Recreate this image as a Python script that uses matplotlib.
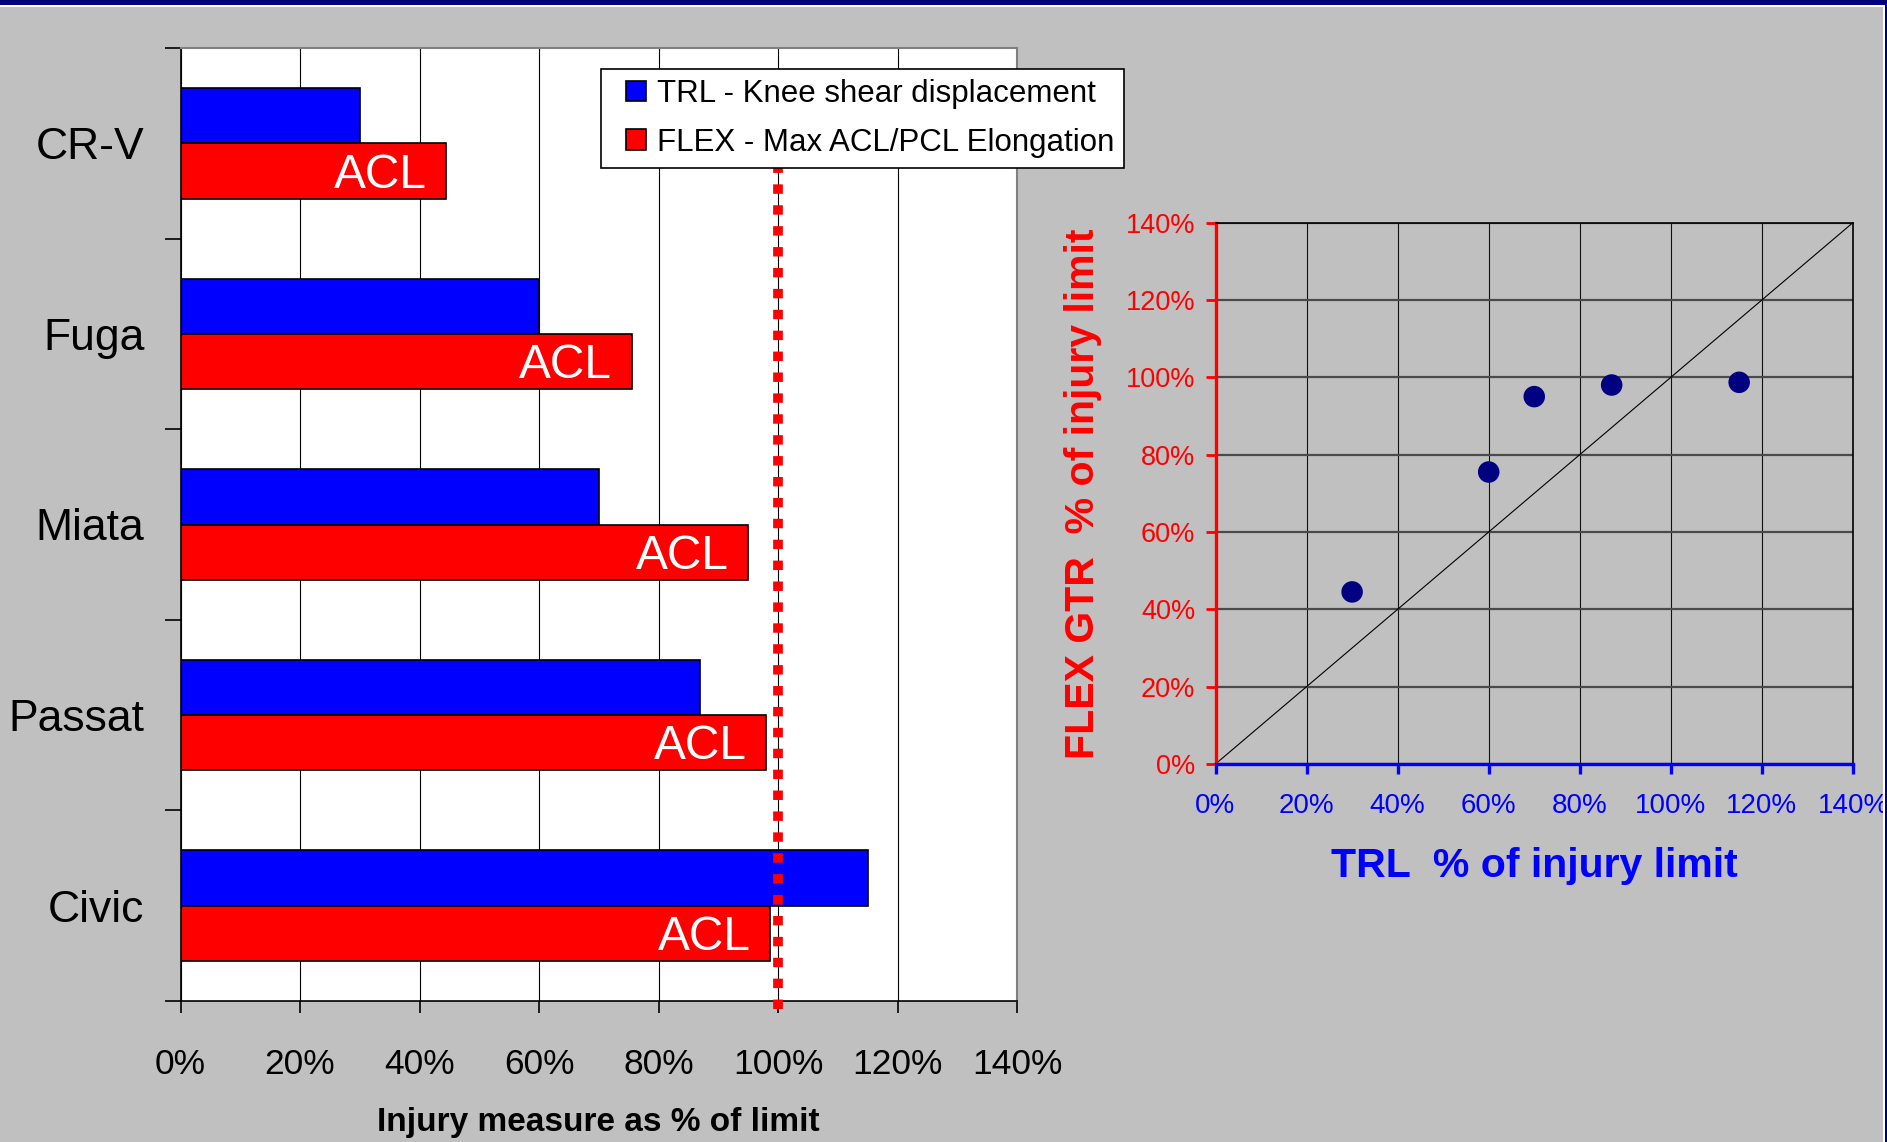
import matplotlib
matplotlib.use("Agg")
import matplotlib.pyplot as plt
from matplotlib.patches import Rectangle, Patch
from matplotlib.legend_handler import HandlerPatch
import numpy as np

plt.rcParams['font.family'] = ['Liberation Sans', 'DejaVu Sans']

# ---- data -------------------------------------------------------------
vehicles = ['CR-V', 'Fuga', 'Miata', 'Passat', 'Civic']
trl_pct = [30, 60, 70, 87, 115]          # TRL - knee shear displacement, % of limit
flex_pct = [44.5, 75.5, 95, 98, 98.7]    # FLEX - max ACL/PCL elongation, % of limit
flex_labels = ['ACL', 'ACL', 'ACL', 'ACL', 'ACL']
pct_ticks = [0, 20, 40, 60, 80, 100, 120, 140]
injury_limit = 100
series_names = ['TRL - Knee shear displacement', 'FLEX - Max ACL/PCL Elongation']

# ---- figure -----------------------------------------------------------
W, H = 1887, 1142
fig = plt.figure(figsize=(W / 100, H / 100), dpi=100)
fig.patch.set_facecolor('#C0C0C0')


def fx(px):
    return px / W


def fy(py):
    return 1 - py / H


# slide frame: navy strip along the top and right edge with a white rule
for x0, y0, w, h, c in [
    (0, 0, W, 5, '#00007A'),
    (0, 5, W, 2, 'white'),
    (1883, 5, 2, H, 'white'),
    (1885, 0, 2, H, '#00007A'),
]:
    fig.patches.append(Rectangle((fx(x0), fy(y0 + h)), w / W, h / H,
                                 transform=fig.transFigure, facecolor=c,
                                 edgecolor='none', zorder=0))

tick_fmt = [f'{t}%' for t in pct_ticks]

# ---- left: horizontal bar chart ---------------------------------------
ax1 = fig.add_axes([fx(180.5), fy(1001), (1017 - 180.5) / W, 953 / H])
ax1.set_facecolor('white')
ypos = np.arange(len(vehicles))
bh = 0.29
blue_bars = ax1.barh(ypos - bh / 2, trl_pct, height=bh, color='#0000FF',
                     edgecolor='black', linewidth=1.2, zorder=2)
red_bars = ax1.barh(ypos + bh / 2, flex_pct, height=bh, color='#FF0000',
                    edgecolor='black', linewidth=1.2, zorder=2)

for i, (v, lbl) in enumerate(zip(flex_pct, flex_labels)):
    ax1.annotate(lbl, xy=(v, i + bh / 2), xytext=(-14, -3),
                 textcoords='offset points', ha='right', va='center',
                 color='white', fontsize=34.5, zorder=3)

# limit line, running from beneath the legend down past the axis
ax1.axvline(injury_limit, ymin=-0.008, ymax=0.9, color='#FF0000', linewidth=7,
            linestyle=(0, (0.97, 1.18)), dash_capstyle='butt', zorder=4,
            clip_on=False)

ax1.set_xlim(pct_ticks[0], pct_ticks[-1])
ax1.set_ylim(len(vehicles) - 0.5, -0.5)
ax1.set_xticks(pct_ticks)
ax1.set_xticklabels(tick_fmt)
ax1.xaxis.grid(True, color='black', linewidth=0.8)
ax1.set_axisbelow(True)

ax1.set_yticks(np.arange(-0.5, len(vehicles), 1.0))
ax1.set_yticks(ypos, minor=True)
ax1.set_yticklabels(vehicles, minor=True)
ax1.tick_params(axis='y', which='major', length=11.5, width=1.2,
                labelleft=False, color='black')
ax1.tick_params(axis='y', which='minor', length=0, pad=26, labelsize=32)
ax1.tick_params(axis='x', which='major', length=8.6, width=1.2, pad=25,
                labelsize=25.5, color='black')

for side in ('left', 'bottom'):
    ax1.spines[side].set_color('black')
    ax1.spines[side].set_linewidth(1.2)
for side in ('top', 'right'):
    ax1.spines[side].set_color('#808080')
    ax1.spines[side].set_linewidth(1.5)

ax1.set_xlabel('Injury measure as % of limit', fontsize=24,
               fontweight='bold', va='center')
ax1.xaxis.set_label_coords(0.5, (1001 - 1122) / 953)


# legend with squares set in from the box edge
def square_patch(legend, orig_handle, xdescent, ydescent, width, height,
                 fontsize):
    return Rectangle((-xdescent + width - height, -ydescent), height, height)


handles = [Patch(facecolor='#0000FF', edgecolor='black', linewidth=1.2),
           Patch(facecolor='#FF0000', edgecolor='black', linewidth=1.2)]
leg = fig.legend(handles, series_names, loc='upper left',
                 bbox_to_anchor=(fx(600.5), fy(68.6)), fontsize=22.5,
                 frameon=True, fancybox=False, edgecolor='black',
                 framealpha=1, facecolor='white', handlelength=1.14,
                 handleheight=0.65, handletextpad=0.33, labelspacing=0.6,
                 borderpad=0.33, borderaxespad=0,
                 handler_map={Patch: HandlerPatch(patch_func=square_patch)})
leg.get_frame().set_linewidth(1.2)
leg.set_zorder(10)

# ---- right: TRL vs FLEX scatter ----------------------------------------
ax2 = fig.add_axes([fx(1215.5), fy(764), (1853 - 1215.5) / W, (764 - 222.6) / H])
ax2.set_facecolor('#C0C0C0')
ax2.set_xlim(pct_ticks[0], pct_ticks[-1])
ax2.set_ylim(pct_ticks[0], pct_ticks[-1])
ax2.set_xticks(pct_ticks)
ax2.set_yticks(pct_ticks)
ax2.set_xticklabels(tick_fmt)
ax2.set_yticklabels(tick_fmt)
ax2.yaxis.grid(True, color='#4A4A4A', linewidth=1.6, zorder=1)
ax2.xaxis.grid(True, color='#101010', linewidth=0.8, zorder=1)
ax2.set_axisbelow(True)

ax2.axline((0, 0), slope=1, color='black', linewidth=0.8, zorder=2)
ax2.scatter(trl_pct, flex_pct, s=15.5 ** 2, color='#000080',
            edgecolors='none', zorder=3)

ax2.spines['left'].set_color('#FF0000')
ax2.spines['left'].set_linewidth(2.4)
ax2.spines['bottom'].set_color('#0000FF')
ax2.spines['bottom'].set_linewidth(2.4)
for side in ('top', 'right'):
    ax2.spines[side].set_color('black')
    ax2.spines[side].set_linewidth(1.2)

ax2.tick_params(axis='y', length=7, width=2, color='#FF0000',
                labelcolor='#FF0000', labelsize=19.5, pad=7.5)
ax2.tick_params(axis='x', length=7, width=2.4, color='#0000FF',
                labelcolor='#0000FF', labelsize=20, pad=14)

ax2.set_xlabel('TRL  % of injury limit', color='#0000FF', fontsize=29.5,
               fontweight='bold', va='center')
ax2.xaxis.set_label_coords(0.5, (764 - 866) / 541.4)
ax2.set_ylabel('FLEX GTR  % of injury limit', color='#FF0000', fontsize=29.5,
               fontweight='bold', va='center')
ax2.yaxis.set_label_coords((1083 - 1215.5) / 637.5, 0.5)

fig.savefig('out.png', dpi=100, facecolor=fig.get_facecolor())
